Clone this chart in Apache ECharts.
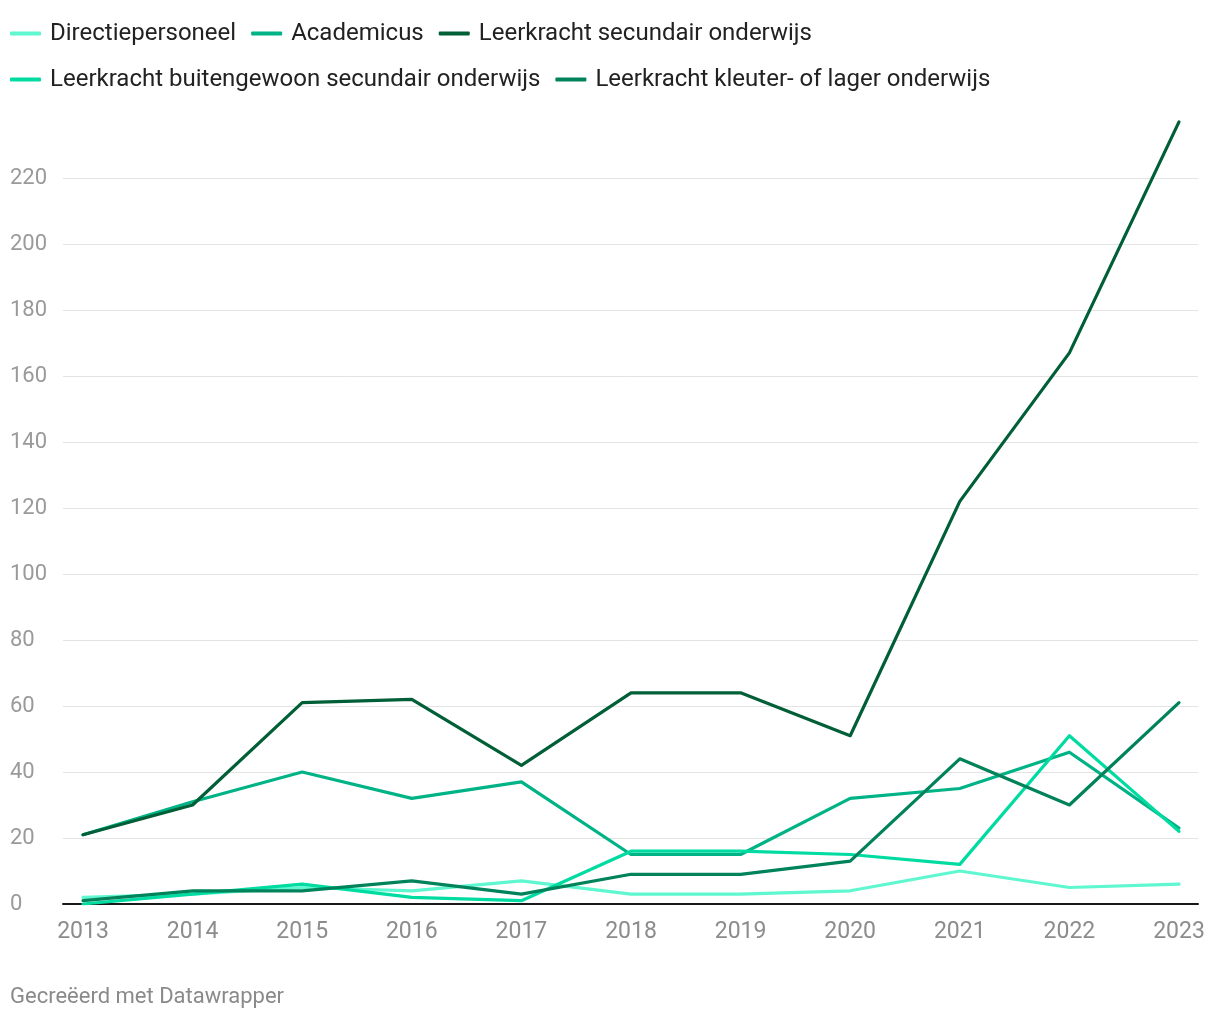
<!DOCTYPE html>
<html>
<head>
<meta charset="utf-8">
<script src="https://cdn.jsdelivr.net/npm/echarts@6/dist/echarts.min.js"></script>
<style>
html,body{margin:0;padding:0;background:#fff;}
#chart{width:1220px;height:1020px;}
</style>
</head>
<body>
<div id="chart"></div>
<script>
const years = [2013,2014,2015,2016,2017,2018,2019,2020,2021,2022,2023];
const directiepersoneel = [2,3,5,4,7,3,3,4,10,5,6];
const academicus = [21,31,40,32,37,15,15,32,35,46,23];
const secundair = [21,30,61,62,42,64,64,51,122,167,237];
const buitengewoon = [0,3,6,2,1,16,16,15,12,51,22];
const kleuter = [1,4,4,7,3,9,9,13,44,30,61];
const yTicks = [0,20,40,60,80,100,120,140,160,180,200,220];

const seriesDefs = [
  {name:'Directiepersoneel', data:directiepersoneel, color:'#5ff7d0'},
  {name:'Academicus', data:academicus, color:'#00b386'},
  {name:'Leerkracht secundair onderwijs', data:secundair, color:'#005f36'},
  {name:'Leerkracht buitengewoon secundair onderwijs', data:buitengewoon, color:'#00dba2'},
  {name:'Leerkracht kleuter- of lager onderwijs', data:kleuter, color:'#00835a'}
];

const chart = echarts.init(document.getElementById('chart'), null, {renderer:'canvas'});
const font = 'Roboto, "Noto Sans", sans-serif';
chart.setOption({
  animation:false,
  backgroundColor:'#fff',
  legend:{
    left:10, top:18, width:1150, padding:0,
    icon:'roundRect', itemWidth:31, itemHeight:4, itemGap:15,
    textStyle:{fontFamily:font, fontSize:24, color:'#222', lineHeight:31, padding:[0,0,0,4]},
    data: seriesDefs.map(s=>s.name)
  },
  grid:{left:63, right:22, top:112, bottom:116, containLabel:false},
  xAxis:{
    type:'value', min:2012.8175, max:2023.1734,
    axisLine:{show:true, lineStyle:{color:'#1a1a1a', width:2}},
    axisTick:{show:false},
    splitLine:{show:false},
    axisLabel:{customValues:years, fontFamily:font, fontSize:23, color:'#8c8c8c', margin:17,
      formatter:v=>String(v), showMinLabel:true, showMaxLabel:true}
  },
  yAxis:{
    type:'value', min:0, max:240, interval:20,
    axisLine:{show:false}, axisTick:{show:false},
    splitLine:{show:true, showMaxLine:false, lineStyle:{color:'#e3e3e3', width:1}},
    axisLabel:{fontFamily:font, fontSize:22, color:'#9a9a9a', align:'left', margin:53,
      showMaxLabel:false, formatter:v=> yTicks.includes(v) ? String(v) : ''}
  },
  series: seriesDefs.map(s=>({
    name:s.name, type:'line', symbol:'none',
    data: years.map((y,i)=>[y, s.data[i]]),
    lineStyle:{width:3.2, color:s.color, cap:'round', join:'round'},
    itemStyle:{color:s.color},
    emphasis:{disabled:true}
  })),
  graphic:[{
    type:'text', left:10, top:986,
    style:{text:'Gecreëerd met Datawrapper', fontFamily:font, fontSize:22, fill:'#8a8a8a'}
  }]
});
</script>
</body>
</html>
